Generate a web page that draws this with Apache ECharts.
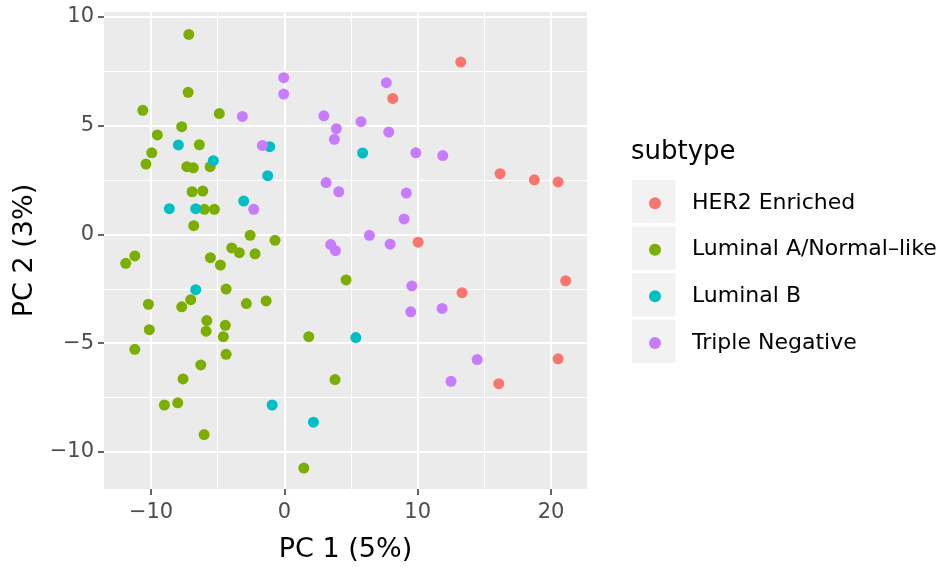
<!DOCTYPE html>
<html>
<head>
<meta charset="utf-8">
<script src="https://cdn.jsdelivr.net/npm/echarts@6/dist/echarts.min.js"></script>
<style>
  html, body { margin: 0; padding: 0; background: #fff; }
  #chart { width: 941px; height: 567px; }
</style>
</head>
<body>
<div id="chart"></div>
<script>
// PCA scores (PC 1, PC 2) per sample, grouped by subtype
const subtypes = ['HER2 Enriched', 'Luminal A/Normal\u2013like', 'Luminal B', 'Triple Negative'];
const subtypeColors = ['#F8766D', '#7CAE00', '#00BFC4', '#C77CFF'];

const her2Enriched = [
  [13.23, 7.92], [8.13, 6.25], [16.18, 2.79], [18.75, 2.51], [20.53, 2.41],
  [10.03, -0.36], [21.1, -2.13], [13.33, -2.68], [20.53, -5.72], [16.08, -6.86]
];
const luminalANormal = [
  [-7.17, 9.19], [-7.22, 6.53], [-10.62, 5.70], [-4.88, 5.55], [-7.70, 4.95],
  [-9.53, 4.57], [-6.38, 4.12], [-9.95, 3.75], [-10.38, 3.23], [-7.32, 3.11],
  [-6.83, 3.06], [-5.57, 3.11], [-6.92, 1.96], [-6.12, 1.99], [-6.0, 1.15],
  [-5.25, 1.15], [-6.80, 0.40], [-2.57, -0.04], [-0.70, -0.27], [-3.95, -0.62],
  [-3.38, -0.84], [-2.20, -0.89], [-11.22, -0.99], [-11.9, -1.33], [-5.55, -1.07],
  [-4.80, -1.41], [-4.37, -2.51], [-10.2, -3.21], [-7.02, -3.0], [-7.70, -3.33],
  [-2.85, -3.18], [-1.37, -3.06], [4.63, -2.09], [-5.82, -3.96], [-4.43, -4.18],
  [-5.87, -4.45], [-4.58, -4.70], [-10.13, -4.38], [1.83, -4.70], [-11.22, -5.28],
  [-4.37, -5.51], [-6.27, -6.0], [-7.60, -6.64], [3.80, -6.67], [-9.0, -7.84],
  [-8.0, -7.74], [-6.02, -9.20], [1.46, -10.74]
];
const luminalB = [
  [-7.95, 4.11], [-5.33, 3.39], [-1.10, 4.03], [-1.25, 2.70], [-3.05, 1.53],
  [-8.63, 1.18], [-6.65, 1.18], [-6.65, -2.54], [-0.92, -7.84], [2.18, -8.63],
  [5.87, 3.74], [5.36, -4.74]
];
const tripleNegative = [
  [-0.05, 7.20], [-0.05, 6.45], [-3.15, 5.42], [2.96, 5.45], [3.90, 4.86],
  [3.75, 4.37], [-1.65, 4.09], [3.13, 2.38], [4.08, 1.96], [-2.30, 1.15],
  [3.48, -0.47], [3.83, -0.75], [7.65, 6.97], [5.75, 5.18], [7.83, 4.70],
  [9.86, 3.75], [11.88, 3.62], [9.15, 1.90], [8.98, 0.71], [6.38, -0.04],
  [7.93, -0.45], [9.56, -2.37], [9.48, -3.56], [11.83, -3.40], [14.46, -5.75],
  [12.5, -6.75]
];
const seriesData = [her2Enriched, luminalANormal, luminalB, tripleNegative];

// axis ranges and tick positions
const xRange = [-13.53, 22.70];
const yRange = [-11.70, 10.22];
const xMajorTicks = [-10, 0, 10, 20];
const xMinorTicks = [-5, 5, 15];
const yMajorTicks = [-10, -5, 0, 5, 10];
const yMinorTicks = [-7.5, -2.5, 2.5, 7.5];

const FONT = 'DejaVu Sans';
const minusFmt = v => String(v).replace('-', '\u2212');

function majorAxis(range, ticks, extra) {
  return Object.assign({
    type: 'value',
    min: range[0],
    max: range[1],
    axisLine: { show: false, onZero: false },
    axisTick: { show: true, customValues: ticks, length: 6, lineStyle: { color: '#333333', width: 1.5 } },
    axisLabel: { show: true, customValues: ticks, color: '#4D4D4D', fontFamily: FONT, fontSize: 21, margin: 10, formatter: minusFmt },
    splitLine: { show: true, lineStyle: { color: '#FFFFFF', width: 2 } },
    minorSplitLine: { show: false },
    nameTextStyle: { color: '#000000', fontFamily: FONT, fontSize: 27 },
    nameMoveOverlap: false
  }, extra);
}
function minorAxis(range, ticks, extra) {
  return Object.assign({
    type: 'value',
    min: range[0],
    max: range[1],
    axisLine: { show: false, onZero: false },
    axisTick: { show: false, customValues: ticks },
    axisLabel: { show: false, customValues: ticks },
    splitLine: { show: true, lineStyle: { color: '#FFFFFF', width: 1 } }
  }, extra);
}

const chart = echarts.init(document.getElementById('chart'), null, { renderer: 'canvas' });

// grey key boxes behind the legend symbols
const keyTop = 180, keyPitch = 46.6, keySize = 43.3;
const keyBoxes = subtypes.map((s, i) => ({
  type: 'rect',
  left: 632,
  top: keyTop + i * keyPitch,
  shape: { width: keySize, height: keySize },
  style: { fill: '#F2F2F2' },
  z: -1
}));

chart.setOption({
  animation: false,
  backgroundColor: '#FFFFFF',
  textStyle: { fontFamily: FONT },
  grid: {
    left: 104, right: 354, top: 12, bottom: 78,
    show: true, backgroundColor: '#EBEBEB', borderWidth: 0,
    outerBoundsMode: 'none', containLabel: false
  },
  xAxis: [
    majorAxis(xRange, xMajorTicks, {
      name: 'PC 1 (5%)', nameLocation: 'middle', nameGap: 47,
      axisLabel: { show: true, customValues: xMajorTicks, color: '#4D4D4D', fontFamily: FONT, fontSize: 21, margin: 13, formatter: minusFmt }
    }),
    minorAxis(xRange, xMinorTicks, {})
  ],
  yAxis: [
    majorAxis(yRange, yMajorTicks, { name: 'PC 2 (3%)', nameLocation: 'middle', nameGap: 66, nameRotate: 90 }),
    minorAxis(yRange, yMinorTicks, {})
  ],
  title: {
    text: 'subtype',
    left: 631,
    top: 139,
    padding: 0,
    textStyle: { fontFamily: FONT, fontSize: 26, fontWeight: 'normal', color: '#000000' }
  },
  legend: {
    orient: 'vertical',
    left: 649,
    top: keyTop + keySize / 2 - 20,
    padding: 0,
    itemWidth: 12,
    itemHeight: 12,
    itemGap: keyPitch - 43,
    icon: 'circle',
    selectedMode: false,
    data: subtypes,
    textStyle: { fontFamily: FONT, fontSize: 22, color: '#000000', lineHeight: 43, padding: [0, 0, 0, 26] }
  },
  graphic: keyBoxes,
  series: subtypes.map((name, i) => ({
    name: name,
    type: 'scatter',
    xAxisIndex: 0,
    yAxisIndex: 0,
    data: seriesData[i],
    symbol: 'circle',
    symbolSize: 11,
    itemStyle: { color: subtypeColors[i], opacity: 1 },
    emphasis: { disabled: true },
    z: 3
  }))
});
</script>
</body>
</html>
